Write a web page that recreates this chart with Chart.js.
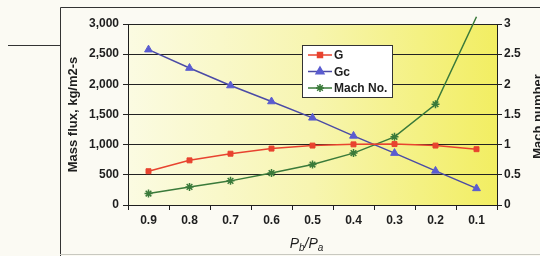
<!DOCTYPE html>
<html>
<head>
<meta charset="utf-8">
<script src="https://cdn.jsdelivr.net/npm/chart.js@4/dist/chart.umd.min.js"></script>
<style>
  html, body { margin: 0; padding: 0; background: #fbfaf3; }
  #wrap { width: 540px; height: 256px; }
</style>
</head>
<body>
<div id="wrap"><canvas id="fluxChart" width="540" height="256"></canvas></div>
<script>
"use strict";

var pressureRatios = ['0.9', '0.8', '0.7', '0.6', '0.5', '0.4', '0.3', '0.2', '0.1'];
var massFluxG = [560, 740, 850, 935, 985, 1005, 1010, 985, 925];
var massFluxGc = [2575, 2270, 1980, 1715, 1445, 1145, 860, 565, 275];
var machNumber = [0.19, 0.30, 0.40, 0.53, 0.67, 0.86, 1.13, 1.67, 3.12];

var COLORS = {
  'g': '#e8432f',
  'gc': '#4b4ba6',
  'gcPoint': '#5a5cd0',
  'mach': '#3a7a3a',
  'ink': '#1e1e1e'
};
var FONT = "'Liberation Sans', Arial, sans-serif";

Chart.defaults.font.family = FONT;
Chart.defaults.font.size = 12;
Chart.defaults.font.weight = 'bold';
Chart.defaults.color = COLORS.ink;

// frame around the figure + yellow gradient behind the plot
var backdrop = {
  id: 'backdrop',
  beforeDraw: function (chart) {
    var ctx = chart.ctx, a = chart.chartArea;
    ctx.save();
    ctx.strokeStyle = '#333';
    ctx.lineWidth = 1;
    ctx.beginPath();
    ctx.moveTo(60.5, 256);
    ctx.lineTo(60.5, 7.5);
    ctx.lineTo(540, 7.5);
    ctx.moveTo(8, 45.5);
    ctx.lineTo(60, 45.5);
    ctx.stroke();
    ctx.strokeStyle = '#c8c8c0';
    ctx.beginPath();
    ctx.moveTo(60, 254.5);
    ctx.lineTo(540, 254.5);
    ctx.stroke();
    var grad = ctx.createLinearGradient(a.left, 0, a.right, 0);
    grad.addColorStop(0, '#fbfbe2');
    grad.addColorStop(0.5, '#f7f5b0');
    grad.addColorStop(1, '#f2ee62');
    ctx.fillStyle = grad;
    ctx.fillRect(a.left, a.top, a.right - a.left, a.bottom - a.top);
    ctx.restore();
  }
};

// legend box sitting inside the plot
var legendBox = {
  id: 'legendBox',
  afterDraw: function (chart) {
    var ctx = chart.ctx;
    var x = 302, y = 45, w = 90, h = 52;
    ctx.save();
    ctx.fillStyle = '#ffffff';
    ctx.fillRect(x, y, w, h);
    ctx.strokeStyle = '#333';
    ctx.lineWidth = 1;
    ctx.strokeRect(x + 0.5, y + 0.5, w, h);
    chart.data.datasets.forEach(function (ds, i) {
      var ly = y + 10 + i * 16.5;
      ctx.strokeStyle = ds.borderColor;
      ctx.lineWidth = 1.5;
      ctx.beginPath();
      ctx.moveTo(x + 6, ly);
      ctx.lineTo(x + 30, ly);
      ctx.stroke();
      ctx.fillStyle = ds.pointBackgroundColor;
      ctx.strokeStyle = ds.pointBorderColor;
      Chart.helpers.drawPoint(ctx, {
        pointStyle: ds.pointStyle,
        radius: ds.legendRadius,
        rotation: 0,
        borderWidth: ds.pointBorderWidth
      }, x + 18, ly);
      ctx.fillStyle = COLORS.ink;
      ctx.font = 'bold 12px ' + FONT;
      ctx.textBaseline = 'middle';
      ctx.textAlign = 'left';
      ctx.fillText(ds.label, x + 32, ly + 1);
    });
    ctx.restore();
  }
};

// axis titles drawn by hand: Pb/Pa with subscripts, and the right title read bottom-up
var axisTitles = {
  id: 'axisTitles',
  afterDraw: function (chart) {
    var ctx = chart.ctx, a = chart.chartArea;
    var parts = [['P', 14, 0], ['b', 10, 3], ['/', 14, 0], ['P', 14, 0], ['a', 10, 3]];
    ctx.save();
    ctx.fillStyle = COLORS.ink;
    ctx.textBaseline = 'alphabetic';
    ctx.textAlign = 'left';
    var total = 0;
    parts.forEach(function (p) {
      ctx.font = 'italic ' + p[1] + 'px ' + FONT;
      total += ctx.measureText(p[0]).width;
    });
    var cx = (a.left + a.right) / 2 - 6 - total / 2;
    parts.forEach(function (p) {
      ctx.font = 'italic ' + p[1] + 'px ' + FONT;
      ctx.fillText(p[0], cx, 248 + p[2]);
      cx += ctx.measureText(p[0]).width;
    });

    ctx.translate(538, (a.top + a.bottom) / 2 + 2);
    ctx.rotate(-Math.PI / 2);
    ctx.font = 'bold 13px ' + FONT;
    ctx.textAlign = 'center';
    ctx.textBaseline = 'middle';
    ctx.fillText('Mach number', 0, 0);
    ctx.restore();
  }
};

var load_flux_chart = function () {
  var el = document.getElementById('fluxChart').getContext('2d');
  var fluxData = {
    labels: pressureRatios,
    datasets: [
      {
        label: 'G',
        data: massFluxG,
        yAxisID: 'y',
        borderColor: COLORS.g,
        borderWidth: 1.5,
        pointStyle: 'rect',
        pointRadius: 3.5,
        legendRadius: 3.5,
        pointBackgroundColor: COLORS.g,
        pointBorderColor: COLORS.g,
        pointBorderWidth: 1
      },
      {
        label: 'Gc',
        data: massFluxGc,
        yAxisID: 'y',
        borderColor: COLORS.gc,
        borderWidth: 1.5,
        pointStyle: 'triangle',
        pointRadius: 4.5,
        legendRadius: 4.5,
        pointBackgroundColor: COLORS.gcPoint,
        pointBorderColor: COLORS.gcPoint,
        pointBorderWidth: 1
      },
      {
        label: 'Mach No.',
        data: machNumber,
        yAxisID: 'y1',
        clip: false,
        borderColor: COLORS.mach,
        borderWidth: 1.5,
        pointStyle: 'star',
        // the marker above the top of the axis is not shown
        pointRadius: function (c) { return c.raw > 3 ? 0 : 4; },
        legendRadius: 4,
        pointBackgroundColor: COLORS.mach,
        pointBorderColor: COLORS.mach,
        pointBorderWidth: 1.5
      }
    ]
  };
  var config = {
    type: 'line',
    data: fluxData,
    plugins: [backdrop, legendBox, axisTitles],
    options: {
      responsive: false,
      animation: false,
      devicePixelRatio: 1,
      layout: { padding: { top: 24, left: 0, right: 0, bottom: 0 } },
      plugins: {
        legend: { display: false },
        tooltip: { enabled: false }
      },
      scales: {
        x: {
          type: 'category',
          offset: true,
          grid: { offset: true, drawOnChartArea: false, tickLength: 5, color: COLORS.ink },
          border: { color: COLORS.ink, width: 1 },
          ticks: { maxRotation: 0, padding: 3, font: { size: 12, weight: 'bold' } },
          afterFit: function (scale) { scale.height = 51; }
        },
        y: {
          position: 'left',
          min: 0,
          max: 3000,
          ticks: {
            stepSize: 500,
            padding: 4,
            font: { size: 12, weight: 'bold' },
            callback: function (v) { return v.toLocaleString('en-US'); }
          },
          grid: { color: '#222', lineWidth: 1, tickLength: 5 },
          border: { color: COLORS.ink, width: 1 },
          title: {
            display: true,
            text: 'Mass flux, kg/m2-s',
            font: { size: 13, weight: 'bold' },
            padding: { top: 66, bottom: 0 }
          },
          afterFit: function (scale) { scale.width = 128; }
        },
        y1: {
          position: 'right',
          min: 0,
          max: 3,
          ticks: {
            stepSize: 0.5,
            padding: 2,
            font: { size: 12, weight: 'bold' },
            callback: function (v) { return String(v); }
          },
          grid: { drawOnChartArea: false, color: COLORS.ink, tickLength: 5 },
          border: { color: COLORS.ink, width: 1 },
          afterFit: function (scale) { scale.width = 43; }
        }
      }
    }
  };
  return new Chart(el, config);
};

load_flux_chart();
</script>
</body>
</html>
